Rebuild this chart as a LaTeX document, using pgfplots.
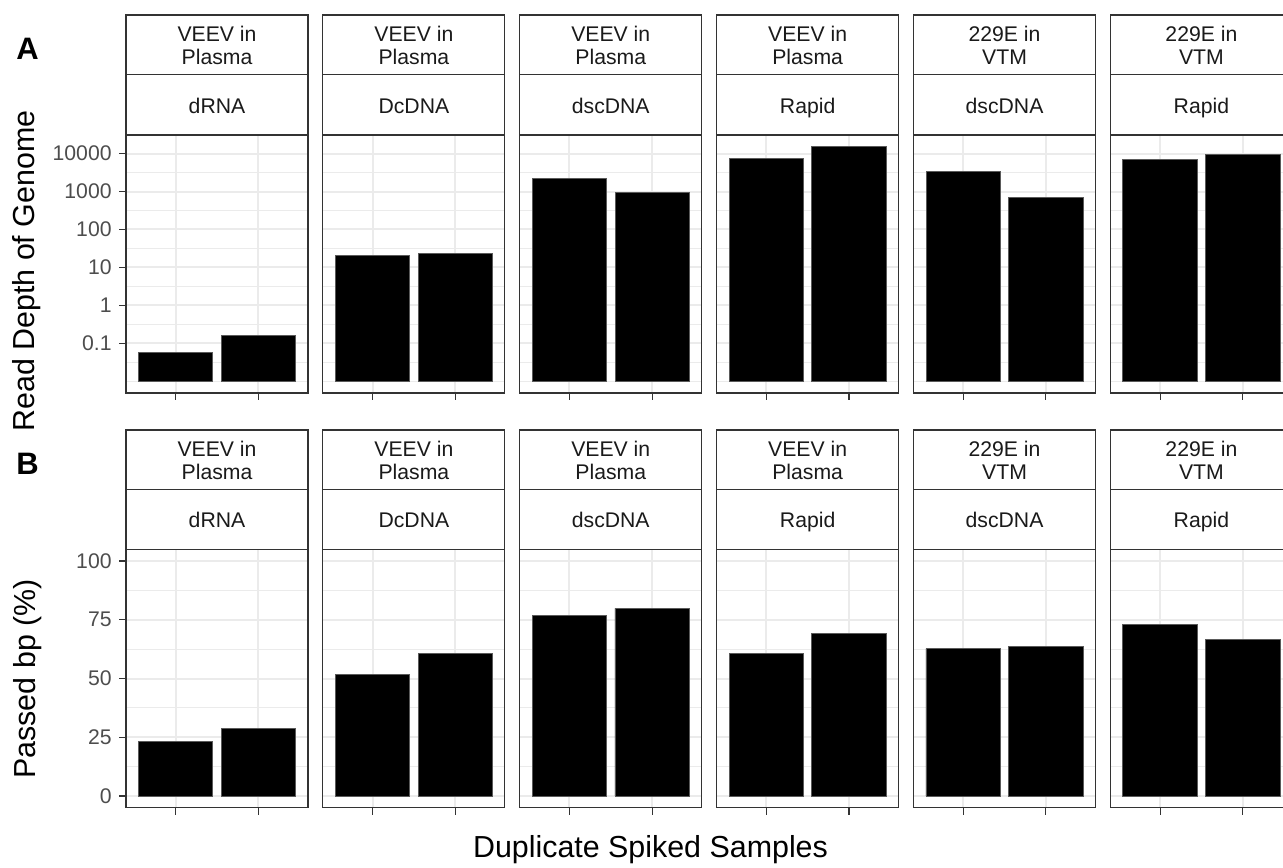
\documentclass[border=0pt]{standalone}
\usepackage{pgfplots}
\pgfplotsset{compat=1.18}
\usepackage{fontspec}
\setmainfont{Liberation Sans}
\definecolor{grey20}{HTML}{333333}
\definecolor{grey30}{HTML}{4D4D4D}
\definecolor{grey10}{HTML}{1A1A1A}
\definecolor{grey92}{HTML}{EBEBEB}
\definecolor{barline}{HTML}{5A5A5A}

\pgfplotsset{
 facet/.style={
   scale only axis, width=91pt,
   xmin=0.4, xmax=2.6, xtick={1,2}, xticklabels={},
   tick align=outside, major tick length=3.5pt,
   xtick pos=bottom, ytick pos=left,
   tick style={color=grey20, line width=0.55pt},
   minor tick length=0pt,
   xmajorgrids, ymajorgrids, yminorgrids,
   major grid style={color=grey92, line width=1pt},
   minor grid style={color=grey92, line width=0.5pt},
   axis line style={color=grey20, line width=0.55pt},
   yticklabel style={font=\fontsize{10.6}{12}\selectfont, text=grey30, inner sep=0pt, xshift=-3.5pt},
   anchor=south west,
 },
}
\tikzset{barstyle/.style={fill=black, draw=barline, line width=0.4pt}}

\newcommand{\stripbox}[6]{%
 \draw[grey20, line width=0.55pt, fill=white] (#1pt,#2pt) rectangle ({#1pt+91pt},#3pt);
 \draw[grey20, line width=0.55pt, fill=white] (#1pt,#3pt) rectangle ({#1pt+91pt},#4pt);
 \node[align=center, text=grey10, font=\fontsize{10.6}{11.5}\selectfont, inner sep=0pt, yshift=-1.8pt] at ({#1pt+45.5pt},{(#2pt+#3pt)/2}) {#5};
 \node[align=center, text=grey10, font=\fontsize{10.6}{11.5}\selectfont, inner sep=0pt, yshift=-2pt] at ({#1pt+45.5pt},{(#3pt+#4pt)/2}) {#6\strut};
}

\newcommand{\toppanel}[6]{%
 \begin{axis}[facet, height=129pt, ymode=log, ymin=0.00491, ymax=30832,
   ytick={0.1,1,10,100,1000,10000},
   yticklabels={0.1,1,10,100,1000,10000},
   minor ytick={0.01,0.0316228,0.316228,3.16228,31.6228,316.228,3162.28},
   #6, at={(#1pt,237pt)}]
  \addplot[barstyle] coordinates {(0.55,0.01) (0.55,#2) (1.45,#2) (1.45,0.01)} --cycle;
  \addplot[barstyle] coordinates {(1.55,0.01) (1.55,#3) (2.45,#3) (2.45,0.01)} --cycle;
 \end{axis}
 \stripbox{#1}{426}{396.25}{366}{#4}{#5}
}

\newcommand{\botpanel}[6]{%
 \begin{axis}[facet, height=129.2pt, ymin=-5, ymax=105,
   ytick={0,25,50,75,100}, yticklabels={0,25,50,75,100},
   minor ytick={12.5,37.5,62.5,87.5},
   #6, at={(#1pt,29.65pt)}]
  \addplot[barstyle, ybar, bar width=0.9] coordinates {(1,#2) (2,#3)};
 \end{axis}
 \stripbox{#1}{218.5}{188.75}{158.85}{#4}{#5}
}

\begin{document}
\begin{tikzpicture}
\useasboundingbox (0,0) rectangle (641.5pt,433.5pt);
\clip (0,0) rectangle (641.5pt,433.5pt);

% Row A: read depth of genome (log scale)
\toppanel{63}{0.059}{0.16}{VEEV in\strut\\Plasma\strut}{dRNA}{}
\toppanel{161.44}{21.1}{23.4}{VEEV in\strut\\Plasma\strut}{DcDNA}{yticklabels={}, ytick style={draw=none}}
\toppanel{259.88}{2200}{940}{VEEV in\strut\\Plasma\strut}{dscDNA}{yticklabels={}, ytick style={draw=none}}
\toppanel{358.32}{7240}{15100}{VEEV in\strut\\Plasma\strut}{Rapid}{yticklabels={}, ytick style={draw=none}}
\toppanel{456.76}{3400}{700}{229E in\strut\\VTM\strut}{dscDNA}{yticklabels={}, ytick style={draw=none}}
\toppanel{555.2}{7000}{9400}{229E in\strut\\VTM\strut}{Rapid}{yticklabels={}, ytick style={draw=none}}

% Row B: passed bp (%)
\botpanel{63}{23.3}{28.6}{VEEV in\strut\\Plasma\strut}{dRNA}{}
\botpanel{161.44}{51.7}{60.6}{VEEV in\strut\\Plasma\strut}{DcDNA}{yticklabels={}, ytick style={draw=none}}
\botpanel{259.88}{76.7}{79.9}{VEEV in\strut\\Plasma\strut}{dscDNA}{yticklabels={}, ytick style={draw=none}}
\botpanel{358.32}{60.8}{69.3}{VEEV in\strut\\Plasma\strut}{Rapid}{yticklabels={}, ytick style={draw=none}}
\botpanel{456.76}{62.7}{63.8}{229E in\strut\\VTM\strut}{dscDNA}{yticklabels={}, ytick style={draw=none}}
\botpanel{555.2}{72.9}{66.8}{229E in\strut\\VTM\strut}{Rapid}{yticklabels={}, ytick style={draw=none}}

\node[font=\fontsize{15.2}{16}\selectfont] at (325.25pt,8.5pt) {Duplicate Spiked Samples};
\node[rotate=90, font=\fontsize{15.2}{16}\selectfont] at (13.25pt,298pt) {Read Depth of Genome};
\node[rotate=90, font=\fontsize{15.2}{16}\selectfont] at (13.75pt,94pt) {Passed bp (\%)};
\node[font=\bfseries\fontsize{15.5}{16}\selectfont] at (13.75pt,409pt) {A};
\node[font=\bfseries\fontsize{15.5}{16}\selectfont] at (13.75pt,201.5pt) {B};
\end{tikzpicture}
\end{document}
